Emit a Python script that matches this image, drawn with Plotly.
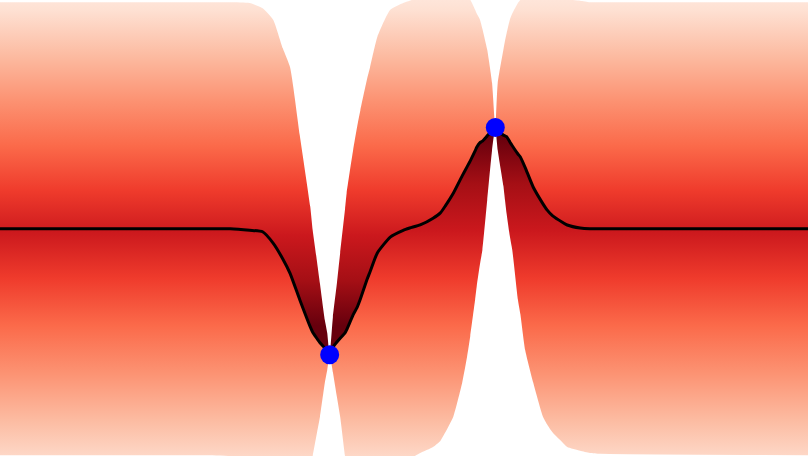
"""
Posterior de un proceso gaussiano: media, banda con degradado y observaciones.
"""

from __future__ import annotations

import plotly.graph_objects as go

COLOR_FONDO = "#ffffff"
COLOR_MEDIA = "#000000"
COLOR_PUNTOS = "#0000ff"

RANGO_X = [0.0, 10.0]
RANGO_Y = [-3.01, 3.03]

# Lecturas de la curva: x, media, borde superior e inferior de la banda
X = [
    0.00, 2.48, 2.85, 3.09, 3.25, 3.38, 3.50, 3.59, 3.71, 3.84,
    3.87, 3.92, 3.96, 4.02, 4.05, 4.08, 4.12, 4.17, 4.21, 4.27,
    4.29, 4.37, 4.42, 4.46, 4.54, 4.58, 4.67, 4.83, 4.99, 5.07,
    5.20, 5.36, 5.45, 5.51, 5.61, 5.72, 5.78, 5.82, 5.88, 5.90,
    5.94, 5.97, 6.03, 6.09, 6.13, 6.16, 6.23, 6.25, 6.27, 6.31,
    6.34, 6.41, 6.44, 6.50, 6.60, 6.72, 6.77, 6.84, 6.97, 7.02,
    7.18, 7.30, 7.43, 10.00,
]
MEDIA = [
    0.00, 0.00, 0.00, -0.02, -0.04, -0.19, -0.40, -0.59, -0.94, -1.30,
    -1.37, -1.45, -1.51, -1.58, -1.62, -1.67, -1.57, -1.50, -1.45, -1.38,
    -1.34, -1.14, -1.04, -0.93, -0.68, -0.57, -0.32, -0.11, -0.02, 0.01,
    0.05, 0.14, 0.21, 0.30, 0.47, 0.70, 0.82, 0.90, 1.03, 1.08,
    1.14, 1.16, 1.23, 1.30, 1.34, 1.30, 1.24, 1.23, 1.22, 1.15,
    1.10, 0.99, 0.95, 0.81, 0.55, 0.33, 0.25, 0.17, 0.08, 0.05,
    0.01, 0.00, 0.00, 0.00,
]
BANDA_SUP = [
    3.00, 3.00, 3.00, 2.99, 2.92, 2.77, 2.39, 2.14, 1.24, 0.29,
    -0.02, -0.41, -0.73, -1.21, -1.38, -1.67, -1.17, -0.72, -0.32, 0.26,
    0.47, 1.04, 1.35, 1.57, 1.97, 2.14, 2.54, 2.90, 2.99, 3.02,
    3.07, 3.10, 3.11, 3.11, 3.10, 3.07, 3.04, 3.03, 2.90, 2.85,
    2.77, 2.65, 2.37, 1.93, 1.34, 1.93, 2.37, 2.49, 2.59, 2.77,
    2.85, 2.99, 3.03, 3.08, 3.14, 3.14, 3.12, 3.10, 3.06, 3.04,
    3.02, 3.00, 3.00, 3.00,
]
BANDA_INF = [
    -3.00, -3.00, -3.01, -3.02, -3.06, -3.14, -3.19, -3.30, -3.33, -3.23,
    -3.01, -2.72, -2.49, -2.04, -1.87, -1.67, -1.90, -2.23, -2.49, -3.01,
    -3.17, -3.33, -3.39, -3.42, -3.39, -3.38, -3.33, -3.19, -3.09, -3.05,
    -2.97, -2.89, -2.81, -2.70, -2.49, -2.04, -1.70, -1.42, -0.94, -0.76,
    -0.47, -0.28, 0.38, 1.04, 1.34, 1.04, 0.57, 0.38, 0.20, -0.10,
    -0.28, -0.94, -1.13, -1.61, -2.04, -2.49, -2.59, -2.70, -2.84, -2.89,
    -2.94, -2.97, -2.98, -3.00,
]

PUNTOS_X = [4.08, 6.13]
PUNTOS_Y = [-1.67, 1.34]

# Extremos del degradado vertical (en unidades del eje y)
DEGRADADO_SUP = (-1.28, 3.48)
DEGRADADO_INF = (-3.78, 1.22)

SUAVIZADO = 0.5

# La página se abre sin el margen por defecto del navegador
SIN_MARGEN_JS = "document.body.style.margin = '0';"


def _borde(y: list[float], **extra) -> go.Scatter:
    return go.Scatter(
        x=X,
        y=y,
        mode="lines",
        line=dict(width=0, color="rgba(0,0,0,0)", shape="spline", smoothing=SUAVIZADO),
        hoverinfo="skip",
        showlegend=False,
        **extra,
    )


def crear_grafico_posterior() -> go.Figure:
    """Banda superior e inferior con degradado, media y observaciones."""
    fig = go.Figure()

    fig.add_trace(_borde(MEDIA))
    fig.add_trace(
        _borde(
            BANDA_SUP,
            fill="tonexty",
            fillgradient=dict(
                type="vertical",
                colorscale="Reds_r",
                start=DEGRADADO_SUP[0],
                stop=DEGRADADO_SUP[1],
            ),
        )
    )

    fig.add_trace(_borde(MEDIA))
    fig.add_trace(
        _borde(
            BANDA_INF,
            fill="tonexty",
            fillgradient=dict(
                type="vertical",
                colorscale="Reds",
                start=DEGRADADO_INF[0],
                stop=DEGRADADO_INF[1],
            ),
        )
    )

    fig.add_trace(
        go.Scatter(
            x=X,
            y=MEDIA,
            mode="lines",
            name="Media",
            line=dict(color=COLOR_MEDIA, width=3, shape="spline", smoothing=SUAVIZADO),
            showlegend=False,
        )
    )

    fig.add_trace(
        go.Scatter(
            x=PUNTOS_X,
            y=PUNTOS_Y,
            mode="markers",
            name="Observaciones",
            cliponaxis=False,
            marker=dict(color=COLOR_PUNTOS, size=19),
            showlegend=False,
        )
    )

    fig.update_layout(
        xaxis=dict(range=RANGO_X, visible=False),
        yaxis=dict(range=RANGO_Y, visible=False),
        plot_bgcolor=COLOR_FONDO,
        paper_bgcolor=COLOR_FONDO,
        width=808,
        height=456,
        margin=dict(l=0, r=0, t=0, b=0),
        showlegend=False,
    )
    return fig


if __name__ == "__main__":
    crear_grafico_posterior().write_html(
        "out.html",
        post_script=SIN_MARGEN_JS,
        config={"displayModeBar": False},
    )
